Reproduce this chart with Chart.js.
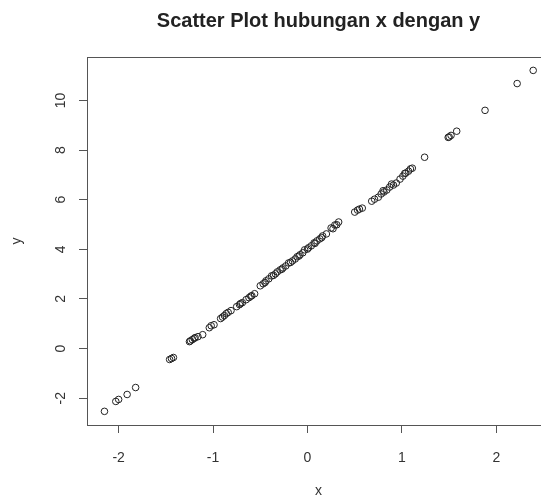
<!DOCTYPE html>
<html>
<head>
<meta charset="utf-8">
<script src="https://cdn.jsdelivr.net/npm/chart.js@4"></script>
<style>
  html, body { margin: 0; padding: 0; overflow: hidden; background: #fff; }
  #wrap { width: 560px; height: 498px; }
</style>
</head>
<body>
<div id="wrap"><canvas id="myChart" width="560" height="498"></canvas></div>
<script>
// values
const xValues = [-2.15, -2.03, -2.00, -1.91, -1.82, -1.46, -1.44, -1.42,
  -1.25, -1.24, -1.22, -1.20, -1.19, -1.16, -1.11, -1.04, -1.02, -0.99, -0.92, -0.90,
  -0.88, -0.86, -0.84, -0.81, -0.75, -0.72, -0.71, -0.69, -0.65, -0.62, -0.60, -0.59, -0.56,
  -0.50, -0.47, -0.45, -0.44, -0.41, -0.38, -0.36, -0.34, -0.32, -0.29, -0.27, -0.26,
  -0.23, -0.20, -0.18, -0.16, -0.13, -0.11, -0.09, -0.08, -0.05, -0.03, 0.00, 0.01,
  0.04, 0.07, 0.08, 0.10, 0.13, 0.15, 0.16, 0.20, 0.25, 0.27, 0.29, 0.31, 0.33,
  0.50, 0.53, 0.55, 0.58, 0.68, 0.71, 0.75, 0.78, 0.80, 0.81, 0.84, 0.87, 0.89, 0.91,
  0.94, 0.98, 1.01, 1.03, 1.04, 1.07, 1.09, 1.11, 1.24, 1.49, 1.50, 1.52, 1.58, 1.88,
  2.22, 2.39];
const yValues = [-2.53, -2.13, -2.05, -1.85, -1.57, -0.44, -0.40, -0.36,
  0.28, 0.31, 0.36, 0.41, 0.44, 0.48, 0.56, 0.84, 0.92, 0.96, 1.21, 1.27,
  1.33, 1.41, 1.46, 1.53, 1.69, 1.77, 1.81, 1.85, 1.97, 2.05, 2.11, 2.13, 2.21,
  2.53, 2.61, 2.66, 2.73, 2.81, 2.93, 2.95, 3.01, 3.09, 3.17, 3.20, 3.25,
  3.33, 3.45, 3.47, 3.53, 3.61, 3.70, 3.73, 3.78, 3.86, 3.98, 4.01, 4.06,
  4.14, 4.26, 4.24, 4.34, 4.42, 4.47, 4.54, 4.62, 4.86, 4.83, 4.98, 4.99, 5.10,
  5.50, 5.58, 5.62, 5.66, 5.94, 6.02, 6.10, 6.23, 6.36, 6.31, 6.39, 6.51, 6.63, 6.59,
  6.67, 6.83, 6.95, 7.06, 7.07, 7.15, 7.24, 7.27, 7.71, 8.51, 8.53, 8.59, 8.76, 9.60,
  10.68, 11.21];
const xTicks = [-2, -1, 0, 1, 2];
const yTicks = [-2, 0, 2, 4, 6, 8, 10];

const points = xValues.map((x, i) => ({ x: x, y: yValues[i] }));

//box round the plot region, like R's box()
const boxPlugin = {
  id: 'box',
  afterDraw(chart) {
    const a = chart.chartArea;
    const ctx = chart.ctx;
    ctx.save();
    ctx.strokeStyle = '#555';
    ctx.lineWidth = 1;
    ctx.strokeRect(Math.round(a.left) + 0.5, Math.round(a.top) + 0.5,
      Math.round(a.right - a.left), Math.round(a.bottom - a.top));
    ctx.restore();
  }
};

const font = { family: 'Liberation Sans, Arial, sans-serif', size: 14 };

let myChart = document.getElementById('myChart').getContext('2d');
let scatterChart = new Chart(myChart, {
  type: 'scatter',
  data: {
    datasets: [{
      data: points,
      pointStyle: 'circle',
      pointRadius: 3.3,
      borderWidth: 1,
      borderColor: '#222',
      backgroundColor: 'rgba(0,0,0,0)'
    }]
  },
  options: {
    responsive: false,
    animation: false,
    layout: { padding: { left: 0, right: 10, top: 0, bottom: 0 } },
    plugins: {
      legend: { display: false },
      tooltip: { enabled: false },
      title: {
        display: true,
        fullSize: false,
        text: 'Scatter Plot hubungan x dengan y',
        color: '#222',
        font: { family: 'Liberation Sans, Arial, sans-serif', size: 20, weight: 'bold', lineHeight: 1.2 },
        padding: { top: 9, bottom: 24 }
      }
    },
    scales: {
      x: {
        type: 'linear',
        min: -2.335,
        max: 2.568,
        afterBuildTicks: (axis) => { axis.ticks = xTicks.map(v => ({ value: v })); },
        afterFit: (axis) => { axis.height = 73; },
        grid: { display: true, drawOnChartArea: false, drawTicks: true, tickLength: 8, color: '#555' },
        border: { display: false },
        ticks: { color: '#333', font: font, padding: 17, maxRotation: 0 },
        title: { display: true, text: 'x', color: '#333', font: { family: font.family, size: 14, lineHeight: 1.0 }, padding: { top: 0, bottom: 0 } }
      },
      y: {
        type: 'linear',
        min: -3.08,
        max: 11.75,
        afterBuildTicks: (axis) => { axis.ticks = yTicks.map(v => ({ value: v })); },
        afterFit: (axis) => { axis.width = 87; },
        grid: { display: true, drawOnChartArea: false, drawTicks: true, tickLength: 8, color: '#555' },
        border: { display: false },
        ticks: { color: '#333', font: font, padding: 10, minRotation: 90, maxRotation: 90, crossAlign: 'center' },
        title: { display: true, text: 'y', color: '#333', font: font, padding: { top: 9, bottom: 0 } }
      }
    }
  },
  plugins: [boxPlugin]
});
</script>
</body>
</html>
